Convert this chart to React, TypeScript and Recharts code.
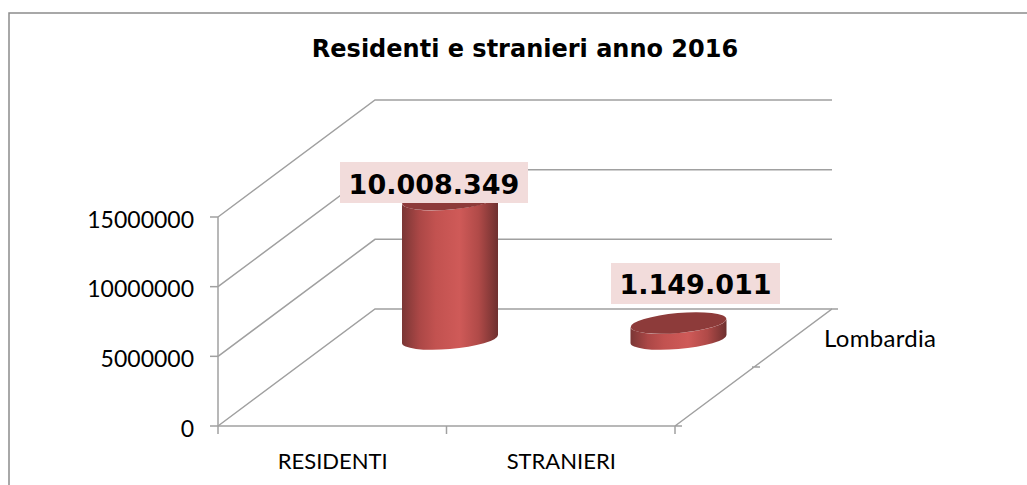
import React from "react";
import { BarChart, Bar, XAxis, YAxis, CartesianGrid, LabelList } from "recharts";

const categories = ["RESIDENTI", "STRANIERI"];
const lombardia = [10008349, 1149011];
const yTicks = [0, 5000000, 10000000, 15000000];
const seriesName = "Lombardia";
const chartTitle = "Residenti e stranieri anno 2016";

const rows = categories.map((name, i) => ({ name, value: lombardia[i] }));

const W = 1027;
const H = 485;
const PLOT_L = 218;
const PLOT_R = 675;
const PLOT_T = 217;
const PLOT_B = 426;
const DEPTH_X = 157;
const DEPTH_Y = 117;
const BAR_DX = 118;
const BAR_DY = 87;
const GRID = "#a0a0a0";
const AXIS_FONT = "Lato, Carlito, sans-serif";
const BOLD_FONT = "'DejaVu Sans', Verdana, sans-serif";

const labelBoxes = [
  { dx: -16, top: 162, w: 188, base: 194 },
  { dx: 17, top: 263, w: 169, base: 294 },
];

const fmt = (v: number) => String(v).replace(/\B(?=(\d{3})+$)/g, ".");

function gridLine(p: any) {
  const { x1, x2, y1 } = p;
  return (
    <path
      key={`g-${y1}`}
      d={`M${x1} ${y1}L${x1 + DEPTH_X} ${y1 - DEPTH_Y}L${x2 + DEPTH_X} ${y1 - DEPTH_Y}`}
      fill="none"
      stroke={GRID}
      strokeWidth={1.5}
    />
  );
}

function Cylinder(p: any) {
  const { x, y, width, height } = p;
  const cx = x + width / 2 + BAR_DX;
  const rx = width / 2;
  const ry = 10;
  const tilt = 4;
  const top = y - BAR_DY;
  const bot = y + height - BAR_DY;
  const l = cx - rx;
  const r = cx + rx;
  const rot = -5;
  return (
    <g>
      <path
        d={`M${l} ${top + tilt}L${l} ${bot + tilt}A${rx} ${ry} ${rot} 0 0 ${r} ${bot - tilt}L${r} ${top - tilt}A${rx} ${ry} ${rot} 0 1 ${l} ${top + tilt}Z`}
        fill="url(#cylBody)"
      />
      <ellipse cx={cx} cy={top} rx={rx} ry={ry} transform={`rotate(${rot} ${cx} ${top})`} fill="#8d3b3a" />
    </g>
  );
}

function BarLabel(p: any) {
  const { x, width, value, index } = p;
  const b = labelBoxes[index];
  const c = x + width / 2 + BAR_DX + b.dx;
  return (
    <g>
      <rect x={c - b.w / 2} y={b.top} width={b.w} height={41} fill="#f2dcdb" />
      <text x={c} y={b.base} textAnchor="middle" fontFamily={BOLD_FONT} fontWeight="bold" fontSize={27} fill="#000">
        {fmt(value)}
      </text>
    </g>
  );
}

function XTick(p: any) {
  const { x, payload, index } = p;
  const band = (PLOT_R - PLOT_L) / categories.length;
  const lx = x - band / 2;
  const rx = x + band / 2;
  return (
    <g>
      <path d={`M${lx} ${PLOT_B}V${PLOT_B + 8}`} stroke={GRID} strokeWidth={1.5} />
      {index === categories.length - 1 && <path d={`M${rx} ${PLOT_B}V${PLOT_B + 8}`} stroke={GRID} strokeWidth={1.5} />}
      <text x={x + 0.5} y={468.5} textAnchor="middle" fontFamily={AXIS_FONT} fontSize={22} fill="#000">
        {payload.value}
      </text>
    </g>
  );
}

function YTick(p: any) {
  const { y, payload } = p;
  return (
    <text x={194} y={y + 10.5} textAnchor="end" fontFamily={AXIS_FONT} fontSize={23} fill="#000">
      {payload.value}
    </text>
  );
}

export default function App() {
  return (
    <div style={{ position: "absolute", left: 0, top: 0, width: W, height: H, background: "#fff" }}>
      <BarChart
        width={W}
        height={H}
        data={rows}
        margin={{ top: PLOT_T, right: W - PLOT_R, bottom: 0, left: 0 }}
      >
        <defs>
          <linearGradient id="cylBody" x1="0" y1="0" x2="1" y2="0">
            <stop offset="0" stopColor="#7a3635" />
            <stop offset="0.18" stopColor="#ab4746" />
            <stop offset="0.35" stopColor="#c25250" />
            <stop offset="0.6" stopColor="#cf5a58" />
            <stop offset="0.8" stopColor="#b04a48" />
            <stop offset="1" stopColor="#6e302f" />
          </linearGradient>
        </defs>
        <path d={`M9 ${H}V13H${W}`} fill="none" stroke="#8c8c8c" strokeWidth={1.5} />
        <text x={525} y={57} textAnchor="middle" fontFamily={BOLD_FONT} fontWeight="bold" fontSize={24} fill="#000">
          {chartTitle}
        </text>
        <CartesianGrid horizontal={gridLine} vertical={false} />
        <path
          d={`M${PLOT_R} ${PLOT_B}L${PLOT_R + DEPTH_X} ${PLOT_B - DEPTH_Y}H${PLOT_R + DEPTH_X + 6}M${PLOT_R} ${PLOT_B}h7M752 367h8`}
          fill="none"
          stroke={GRID}
          strokeWidth={1.5}
        />
        <text x={824} y={347} fontFamily={AXIS_FONT} fontSize={24} letterSpacing={0.3} fill="#000">
          {seriesName}
        </text>
        <XAxis
          dataKey="name"
          height={H - PLOT_B}
          axisLine={{ stroke: GRID, strokeWidth: 1.5 }}
          tickLine={false}
          tick={XTick}
          interval={0}
        />
        <YAxis
          width={PLOT_L}
          domain={[0, 15000000]}
          ticks={yTicks}
          axisLine={{ stroke: GRID, strokeWidth: 1.5 }}
          tickLine={{ stroke: GRID, strokeWidth: 1.5 }}
          tickSize={8}
          tick={YTick}
          interval={0}
        />
        <Bar dataKey="value" name={seriesName} barSize={96} shape={Cylinder} isAnimationActive={false}>
          <LabelList dataKey="value" content={BarLabel} />
        </Bar>
      </BarChart>
    </div>
  );
}
